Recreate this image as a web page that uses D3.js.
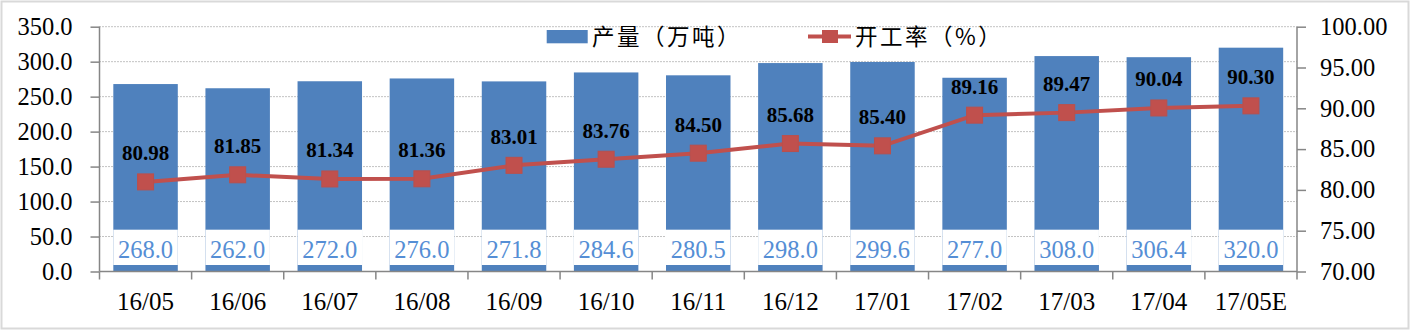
<!DOCTYPE html>
<html><head><meta charset="utf-8">
<script src="https://cdn.jsdelivr.net/npm/d3@7"></script>
<style>html,body{margin:0;padding:0;background:#fff;}svg{display:block;}</style>
</head><body>
<svg id="chart" width="1410" height="331"></svg>
<script>
const categories = ["16/05","16/06","16/07","16/08","16/09","16/10","16/11","16/12","17/01","17/02","17/03","17/04","17/05E"];
const output = [268.0,262.0,272.0,276.0,271.8,284.6,280.5,298.0,299.6,277.0,308.0,306.4,320.0];
const rate = [80.98,81.85,81.34,81.36,83.01,83.76,84.50,85.68,85.40,89.16,89.47,90.04,90.30];
const leftTicks = [0,50,100,150,200,250,300,350];
const rightTicks = [70,75,80,85,90,95,100];
const seriesNames = ["产量（万吨）","开工率（%）"];

(function(){
const svg = d3.select("#chart");
const W = 1410, H = 331;
const pL = 99.5, pR = 1297, pT = 26.7, pB = 271.5;
const serif = "'Liberation Serif','Times New Roman',serif";
const cjk = "'Noto Sans CJK SC',sans-serif";

svg.append("rect").attr("x",1.5).attr("y",1.5).attr("width",W-3).attr("height",H-4)
  .attr("fill","#fff").attr("stroke","#d9d9d9").attr("stroke-width",2);

const x = d3.scaleBand().domain(categories).range([pL,pR]).paddingInner(0.3).paddingOuter(0.15);
const xb = d3.scaleBand().domain(categories).range([pL,pR]);
const yL = d3.scaleLinear().domain([0,350]).range([pB,pT]);
const yR = d3.scaleLinear().domain([70,100]).range([pB,pT]);

// gridlines
svg.append("g").selectAll("line").data(leftTicks.filter(d=>d>0)).join("line")
  .attr("x1",pL).attr("x2",pR).attr("y1",d=>yL(d)).attr("y2",d=>yL(d))
  .attr("stroke","#868686").attr("stroke-width",1).attr("stroke-dasharray","1,2");

// bars
const bars = svg.append("g");
bars.selectAll("rect.bar").data(output).join("rect").attr("class","bar")
  .attr("x",(d,i)=>x(categories[i])).attr("width",x.bandwidth())
  .attr("y",d=>yL(d)).attr("height",d=>pB-yL(d)).attr("fill","#4F81BD");
bars.selectAll("rect.lb").data(output).join("rect").attr("class","lb")
  .attr("x",(d,i)=>x(categories[i])).attr("width",x.bandwidth())
  .attr("y",229.7).attr("height",35.3).attr("fill","#fff");
bars.selectAll("text").data(output).join("text")
  .attr("x",(d,i)=>x(categories[i])+x.bandwidth()/2).attr("y",257.7)
  .attr("text-anchor","middle").attr("font-family",serif).attr("font-size",24.5)
  .attr("fill","#558ED5").text(d=>d3.format(".1f")(d));

// axes
const axL = svg.append("g").attr("transform",`translate(${pL},0)`)
  .call(d3.axisLeft(yL).tickValues(leftTicks).tickFormat(d3.format(".1f")).tickSize(9).tickPadding(18));
const axR = svg.append("g").attr("transform",`translate(${pR},0)`)
  .call(d3.axisRight(yR).tickValues(rightTicks).tickFormat(d3.format(".2f")).tickSize(9).tickPadding(14));
const axB = svg.append("g").attr("transform",`translate(0,${pB})`)
  .call(d3.axisBottom(xb).tickSize(0).tickPadding(21));
svg.append("g").selectAll("line").data(categories.concat(["_end"])).join("line")
  .attr("x1",(d,i)=>pL+i*xb.bandwidth()).attr("x2",(d,i)=>pL+i*xb.bandwidth())
  .attr("y1",pB).attr("y2",pB+8).attr("stroke","#868686").attr("stroke-width",1.5);
[axL,axR,axB].forEach(a=>{
  a.selectAll("path").attr("stroke","#868686").attr("stroke-width",1.5);
  a.selectAll(".tick line").attr("stroke","#868686").attr("stroke-width",1.5);
  a.selectAll("text").attr("font-family",serif).attr("font-size",24.5).attr("fill","#000");
});
axB.selectAll("text").attr("font-size",25);
axL.select(".domain").attr("d",`M0,${pT}V${pB}`);
axR.select(".domain").attr("d",`M0,${pT}V${pB}`);
axB.select(".domain").attr("d",`M${pL},0H${pR}`);

// line
const lineG = svg.append("g");
const line = d3.line().x((d,i)=>xb(categories[i])+xb.bandwidth()/2).y(d=>yR(d));
lineG.append("path").datum(rate).attr("d",line).attr("fill","none")
  .attr("stroke","#C0504D").attr("stroke-width",4);
lineG.selectAll("rect").data(rate).join("rect")
  .attr("x",(d,i)=>xb(categories[i])+xb.bandwidth()/2-8).attr("y",d=>yR(d)-8)
  .attr("width",16).attr("height",16).attr("fill","#C0504D").attr("stroke","#B9504D");
lineG.selectAll("text").data(rate).join("text")
  .attr("x",(d,i)=>xb(categories[i])+xb.bandwidth()/2).attr("y",d=>yR(d)-21.5)
  .attr("text-anchor","middle").attr("font-family",serif).attr("font-size",21)
  .attr("font-weight","bold").attr("fill","#000").text(d=>d3.format(".2f")(d));

// legend
const lg = svg.append("g");
lg.append("rect").attr("x",546.7).attr("y",30).attr("width",41).attr("height",13.3).attr("fill","#4F81BD");
lg.append("text").attr("x",592).attr("y",44.5).attr("font-family",cjk).attr("font-size",22.5)
  .attr("letter-spacing",2.5).attr("fill","#000").text(seriesNames[0]);
lg.append("line").attr("x1",808).attr("x2",851).attr("y1",36.5).attr("y2",36.5)
  .attr("stroke","#C0504D").attr("stroke-width",4);
lg.append("rect").attr("x",822).attr("y",30).attr("width",16).attr("height",13).attr("fill","#C0504D");
lg.append("text").attr("x",855).attr("y",44.5).attr("font-family",cjk).attr("font-size",22.5)
  .attr("letter-spacing",2.5).attr("fill","#000").text(seriesNames[1]);
})();
</script>
</body></html>
